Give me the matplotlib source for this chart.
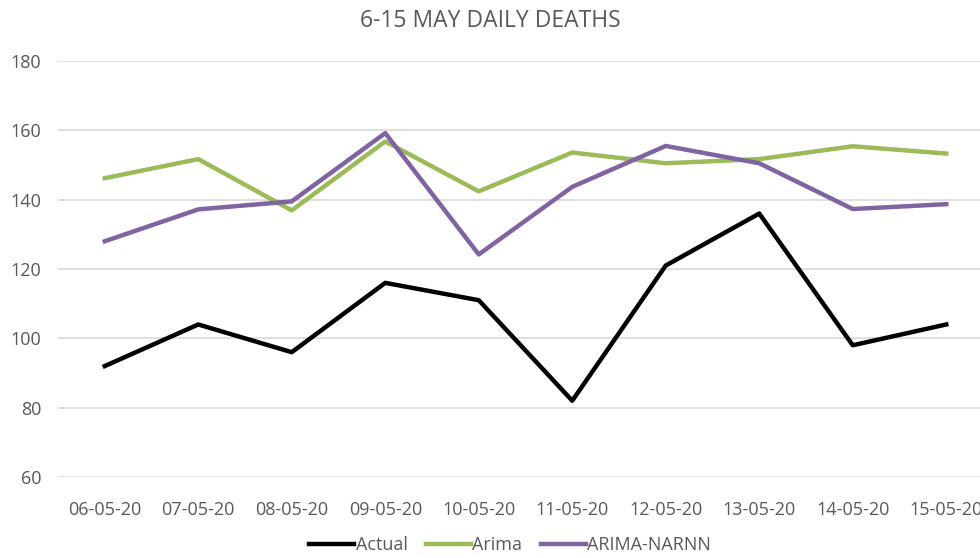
import matplotlib
matplotlib.use("Agg")
import matplotlib.pyplot as plt
import numpy as np

dates = ["06-05-20", "07-05-20", "08-05-20", "09-05-20", "10-05-20",
         "11-05-20", "12-05-20", "13-05-20", "14-05-20", "15-05-20"]
actual = [92, 104, 96, 116, 111, 82, 121, 136, 98, 104]
arima = [146.2, 151.7, 136.9, 156.8, 142.4, 153.6, 150.5, 151.7, 155.4, 153.3]
arima_narnn = [128, 137.2, 139.5, 159.2, 124.2, 143.7, 155.5, 150.5, 137.3, 138.7]

plt.rcParams['font.family'] = ['Open Sans', 'DejaVu Sans']

fig = plt.figure(figsize=(9.8, 5.58), dpi=100)
ax = fig.add_axes([58/980, (558-477)/558, (993-58)/980, (477-61)/558])
x = np.arange(len(dates))
ax.plot(x, actual, color="#000000", lw=3.2, label="Actual")
ax.plot(x, arima, color="#9BBB59", lw=3.2, label="Arima")
ax.plot(x, arima_narnn, color="#8064A2", lw=3.2, label="ARIMA-NARNN")

ax.set_xlim(-0.5, len(dates) - 0.5)
ax.set_ylim(60, 180)
ax.set_yticks(range(60, 181, 20))
ax.set_xticks(x)
ax.set_xticklabels(dates)
ax.grid(axis="y", color="#D9D9D9", lw=1.2)
ax.set_axisbelow(True)
for s in ax.spines.values():
    s.set_visible(False)
ax.tick_params(axis="both", length=0, colors="#595959", labelsize=13)
ax.tick_params(axis="x", pad=17)
ax.tick_params(axis="y", pad=12)

fig.text(0.5, 1 - 21/558, "6-15 MAY DAILY DEATHS", ha="center", va="center",
         fontsize=16.5, color="#595959")
leg = fig.legend(loc="center", bbox_to_anchor=(510/980, 1 - 545/558), ncol=3,
                 frameon=False, fontsize=13, handlelength=2.5, handletextpad=0.1,
                 columnspacing=1.0)
for t in leg.get_texts():
    t.set_color("#595959")

fig.savefig("out.png", dpi=100)
